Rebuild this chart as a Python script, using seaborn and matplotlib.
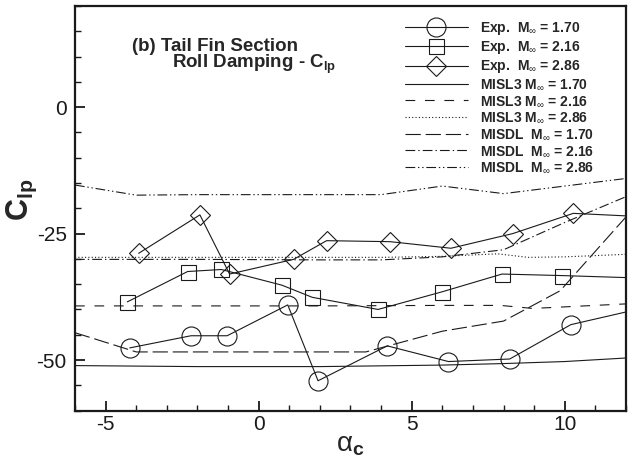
import matplotlib
matplotlib.use("Agg")
import matplotlib.pyplot as plt
import seaborn as sns
from matplotlib.ticker import MultipleLocator

# ---------------- data ----------------
exp170_x = [-4.21, -2.21, -1.03, 0.95, 1.94, 4.2, 6.2, 8.2, 10.2]
exp170_y = [-47.6, -45.2, -45.2, -39.1, -54.1, -47.2, -50.3, -49.8, -43.0]
exp170_end = (12.0, -40.5)

exp216_x = [-4.29, -2.32, -1.22, 0.76, 1.75, 3.9, 6.0, 7.95, 9.9]
exp216_y = [-38.5, -32.5, -32.1, -35.2, -37.6, -40.0, -36.5, -33.0, -33.3]
exp216_end = (12.0, -33.7)

exp286_x = [-3.92, -1.92, -0.95, 1.14, 2.22, 4.3, 6.28, 8.3, 10.28]
exp286_y = [-28.9, -21.3, -33.0, -30.1, -26.4, -26.6, -27.9, -25.0, -21.0]
exp286_end = (12.0, -21.5)

misl3_170_x = [-6, -2, 2, 6, 8, 10, 12]
misl3_170_y = [-51.1, -51.3, -51.3, -51.0, -50.7, -50.3, -49.6]

misl3_216_x = [-6, -2, 2, 6, 7.9, 8.95, 12]
misl3_216_y = [-39.3, -39.3, -39.3, -39.2, -39.2, -39.8, -38.9]

misl3_286_x = [-6, -4, -2, 0, 2, 4, 6, 7.8, 8.8, 10, 12]
misl3_286_y = [-29.7, -29.7, -29.7, -29.7, -29.7, -29.7, -29.5, -29.0, -29.7, -29.6, -29.1]

misdl_170_x = [-6, -4, -2, 0, 2, 3.5, 6, 8, 9.85, 12]
misdl_170_y = [-44.6, -48.4, -48.4, -48.4, -48.4, -48.4, -44.3, -42.3, -36.3, -21.7]

misdl_216_x = [-6, -2, 2, 4, 6, 8, 10, 12]
misdl_216_y = [-30.1, -30.1, -30.2, -30.2, -29.6, -28.2, -22.8, -17.7]

misdl_286_x = [-6, -4, -2, 0, 2, 4, 6, 8, 10, 12]
misdl_286_y = [-15.4, -17.4, -17.3, -17.3, -17.3, -17.3, -15.6, -17.1, -15.6, -14.1]

labels = [r"Exp.  M$_{\infty}$ = 1.70", r"Exp.  M$_{\infty}$ = 2.16", r"Exp.  M$_{\infty}$ = 2.86",
          r"MISL3 M$_{\infty}$ = 1.70", r"MISL3 M$_{\infty}$ = 2.16", r"MISL3 M$_{\infty}$ = 2.86",
          r"MISDL  M$_{\infty}$ = 1.70", r"MISDL  M$_{\infty}$ = 2.16", r"MISDL  M$_{\infty}$ = 2.86"]

title1 = "(b) Tail Fin Section"
title2 = r"Roll Damping - C$_{\mathbf{lp}}$"

# ---------------- style ----------------
sns.set_theme(style="white")
plt.rcParams["font.family"] = ["Liberation Sans", "DejaVu Sans"]
plt.rcParams.update({
    "mathtext.fontset": "custom",
    "mathtext.rm": "Liberation Sans",
    "mathtext.it": "Liberation Sans:italic",
    "mathtext.bf": "Liberation Sans:bold",
    "axes.unicode_minus": False,
    "lines.scale_dashes": False,
})

W, H = 633, 462
ax_left, ax_right, ax_top, ax_bottom = 75, 626, 6, 410.6

fig = plt.figure(figsize=(W / 100, H / 100), dpi=100)
ax = fig.add_axes([ax_left / W, 1 - ax_bottom / H, (ax_right - ax_left) / W,
                   (ax_bottom - ax_top) / H])

LW = 0.8
handles = []

def exp_series(xs, ys, end, marker, ms):
    sns.lineplot(x=list(xs) + [end[0]], y=list(ys) + [end[1]], ax=ax, color="k", lw=LW,
                 marker=marker, markersize=ms, markerfacecolor="none",
                 markeredgecolor="k", markeredgewidth=0.8,
                 markevery=slice(0, len(xs)), legend=False, sort=False,
                 estimator=None)
    handles.append(ax.lines[-1])

def model_series(xs, ys, ls):
    sns.lineplot(x=xs, y=ys, ax=ax, color="k", lw=LW, linestyle=ls, legend=False,
                 sort=False, estimator=None)
    handles.append(ax.lines[-1])

exp_series(exp170_x, exp170_y, exp170_end, "o", 13.7)
exp_series(exp216_x, exp216_y, exp216_end, "s", 10.8)
exp_series(exp286_x, exp286_y, exp286_end, "D", 10.5)
model_series(misl3_170_x, misl3_170_y, "-")
model_series(misl3_216_x, misl3_216_y, (0, (7, 7)))
model_series(misl3_286_x, misl3_286_y, (0, (0.8, 1.6)))
model_series(misdl_170_x, misdl_170_y, (0, (11, 3.5)))
model_series(misdl_216_x, misdl_216_y, (0, (7, 2.2, 1, 2.2)))
model_series(misdl_286_x, misdl_286_y, (0, (7, 2, 1, 2, 1, 2)))

ax.set_xlim(-6, 12)
ax.set_ylim(-60, 20)
ax.xaxis.set_major_locator(MultipleLocator(5))
ax.xaxis.set_minor_locator(MultipleLocator(1))
ax.yaxis.set_major_locator(MultipleLocator(25))
ax.yaxis.set_minor_locator(MultipleLocator(5))
ax.tick_params(axis="both", which="major", direction="in", length=7, width=1.3,
               labelsize=15, pad=3, top=False, right=False, bottom=True, left=True,
               colors="k")
ax.tick_params(axis="y", which="major", pad=6)
ax.tick_params(axis="both", which="minor", direction="in", length=4, width=1.0,
               top=False, right=False, bottom=True, left=True, colors="k")
for s in ax.spines.values():
    s.set_linewidth(1.6)
    s.set_color("k")
ax.grid(False)

ax.set_ylabel(r"C$_{\mathbf{lp}}$", fontsize=22, fontweight="bold")
ax.yaxis.set_label_coords((39 - ax_left) / (ax_right - ax_left),
                          (ax_bottom - 200) / (ax_bottom - ax_top))
ax.set_xlabel(r"$\mathrm{\alpha}_{\mathbf{c}}$", fontsize=20, labelpad=-1)

fig.text(132 / W, 1 - 51 / H, title1, fontsize=13.5, fontweight="bold",
         ha="left", va="baseline")
fig.text(172 / W, 1 - 68 / H, title2, fontsize=13.5, fontweight="bold",
         ha="left", va="baseline")

leg = ax.legend(handles, labels, loc="upper left",
                bbox_to_anchor=((405 - ax_left) / (ax_right - ax_left),
                                (ax_bottom - 20) / (ax_bottom - ax_top)),
                frameon=False, prop={"size": 10, "weight": "bold"}, handlelength=4.5,
                handletextpad=0.9, labelspacing=0.16, borderpad=0, borderaxespad=0,
                numpoints=1)

fig.savefig("out.png", dpi=100)
